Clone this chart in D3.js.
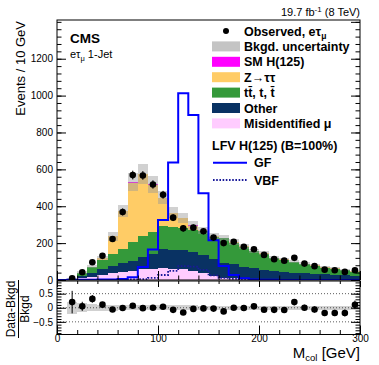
<!DOCTYPE html>
<html>
<head>
<meta charset="utf-8">
<script src="https://cdn.jsdelivr.net/npm/d3@7"></script>
<style>
  body { margin: 0; background: #fff; }
  svg { display: block; font-family: "Liberation Sans", Arial, sans-serif; }
</style>
</head>
<body>
<div id="chart"></div>
<script>
// 10 GeV bins, 0 - 300 GeV
const binLow = d3.range(0, 300, 10);
const misid = [0, 3, 12, 18, 27, 36, 45, 50, 58, 59, 64, 60, 60, 50, 38, 20, 13, 9, 6, 5, 4, 3, 3, 3, 2, 2, 2, 2, 2, 2];
const other = [1, 2, 12, 22, 31, 40, 46, 52, 69, 83, 103, 104, 100, 100, 98, 96, 78, 77, 63, 59, 51, 46, 39, 37, 34, 31, 29, 25, 23, 22];
const ttbar = [1, 2, 15, 29, 51, 66, 76, 104, 113, 118, 124, 121, 122, 122, 128, 115, 136, 117, 110, 92, 88, 70, 69, 57, 50, 44, 35, 35, 27, 22];
const ztt = [0, 0.5, 1, 4, 9, 95, 206, 322, 333, 256, 152, 77, 52, 22, 5, 5, 3, 4, 3, 3, 3, 3, 3, 3, 3, 3, 3, 3, 2, 2];
const smh = [0, 0, 0, 0, 0, 0, 0, 2, 2, 2, 3, 3, 3, 2, 1, 1, 0, 0, 0, 0, 0, 0, 0, 0, 0, 0, 0, 0, 0, 0];
const bkgUnc = [0.3, 0.22, 0.16, 0.12, 0.1, 0.1, 0.09, 0.09, 0.09, 0.09, 0.08, 0.08, 0.08, 0.08, 0.07, 0.07, 0.07, 0.07, 0.07, 0.07, 0.07, 0.07, 0.07, 0.07, 0.07, 0.07, 0.07, 0.07, 0.07, 0.07];
const observed = [0, 9, 42, 96, 131, 222, 369, 569, 567, 518, 462, 338, 280, 284, 264, 230, 200, 207, 180, 167, 136, 113, 105, 120, 89, 75, 56, 53, 44, 53];
const lfvGF = [0, 1, 2, 2, 3, 3, 5, 15, 70, 165, 325, 637, 1013, 895, 470, 216, 76, 27, 9, 3, 1, 1, 0, 0, 0, 0, 0, 0, 0, 0];
const lfvVBF = [0, 0, 0, 0, 1, 1, 2, 3, 5, 12, 27, 50, 75, 72, 55, 25, 12, 6, 3, 2, 1, 1, 1, 0, 0, 0, 0, 0, 0, 0];
const yTicks = [0, 200, 400, 600, 800, 1000, 1200];
const ratioTicks = [-0.5, 0, 0.5];
const xTicks = [0, 100, 200, 300];

const keys = ['misid', 'other', 'ttbar', 'ztt', 'smh'];
const colors = { misid: '#ffccff', other: '#093263', ttbar: '#34993a', ztt: '#ffcc66', smh: '#ff00ff' };

const rows = binLow.map((lo, i) => ({
    lo, hi: lo + 10,
    misid: misid[i], other: other[i], ttbar: ttbar[i], ztt: ztt[i], smh: smh[i]
}));
rows.forEach((r, i) => {
    r.total = keys.reduce((s, k) => s + r[k], 0);
    r.unc = bkgUnc[i];
    r.obs = observed[i];
});

const svg = d3.select('#chart').append('svg')
    .attr('width', 379)
    .attr('height', 365);

const x = d3.scaleLinear().domain([0, 300]).range([57, 360]);
const y = d3.scaleLinear().domain([0, 1410]).range([280, 20]);
const yr = d3.scaleLinear().domain([-0.95, 0.95]).range([334.5, 281]);

svg.append('clipPath').attr('id', 'mainclip')
    .append('rect').attr('x', 57).attr('y', 20).attr('width', 303).attr('height', 260);
svg.append('clipPath').attr('id', 'ratioclip')
    .append('rect').attr('x', 57).attr('y', 281).attr('width', 303).attr('height', 53.5);

const main = svg.append('g').attr('clip-path', 'url(#mainclip)');

// stacked backgrounds
const stack = d3.stack().keys(keys)(rows);
stack.forEach(layer => {
    main.append('g')
        .attr('fill', colors[layer.key])
        .attr('shape-rendering', 'crispEdges')
        .selectAll('rect')
        .data(layer)
        .enter()
        .append('rect')
        .attr('x', d => x(d.data.lo))
        .attr('width', d => x(d.data.hi) - x(d.data.lo))
        .attr('y', d => y(d[1]))
        .attr('height', d => y(d[0]) - y(d[1]));
});

// background uncertainty
main.append('g')
    .attr('fill', '#9a9a9a')
    .attr('fill-opacity', 0.45)
    .attr('shape-rendering', 'crispEdges')
    .selectAll('rect')
    .data(rows.filter(r => r.total > 0))
    .enter()
    .append('rect')
    .attr('x', d => x(d.lo))
    .attr('width', d => x(d.hi) - x(d.lo))
    .attr('y', d => y(d.total * (1 + d.unc)))
    .attr('height', d => y(d.total * (1 - d.unc)) - y(d.total * (1 + d.unc)));

// LFV signal histograms
const stepLine = d3.line()
    .x(d => x(d[0]))
    .y(d => y(d[1]))
    .curve(d3.curveStepAfter);
const steps = vals => binLow.map((lo, i) => [lo, vals[i]]).concat([[300, vals[vals.length - 1]]]);

main.append('path')
    .attr('d', stepLine(steps(lfvVBF)))
    .attr('fill', 'none')
    .attr('stroke', '#1a1a9a')
    .attr('stroke-width', 1.8)
    .attr('stroke-dasharray', '1.6,1.6');

main.append('path')
    .attr('d', stepLine(steps(lfvGF)))
    .attr('fill', 'none')
    .attr('stroke', '#0000ff')
    .attr('stroke-width', 2);

// observed data
const obsRows = rows.filter(r => r.obs > 0);
main.append('g')
    .selectAll('line')
    .data(obsRows)
    .enter()
    .append('line')
    .attr('x1', d => x(d.lo + 5))
    .attr('x2', d => x(d.lo + 5))
    .attr('y1', d => y(d.obs + Math.sqrt(d.obs)))
    .attr('y2', d => y(d.obs - Math.sqrt(d.obs)))
    .attr('stroke', '#000')
    .attr('stroke-width', 1);
main.append('g')
    .selectAll('circle')
    .data(obsRows)
    .enter()
    .append('circle')
    .attr('cx', d => x(d.lo + 5))
    .attr('cy', d => y(d.obs))
    .attr('r', 3.3)
    .attr('fill', '#000');

// ratio panel
const ratio = svg.append('g').attr('clip-path', 'url(#ratioclip)');
const ratioRows = rows.filter(r => r.total > 0 && r.lo >= 10);

ratio.append('g')
    .attr('fill', '#9a9a9a')
    .attr('fill-opacity', 0.45)
    .attr('shape-rendering', 'crispEdges')
    .selectAll('rect')
    .data(ratioRows)
    .enter()
    .append('rect')
    .attr('x', d => x(d.lo))
    .attr('width', d => x(d.hi) - x(d.lo))
    .attr('y', d => yr(d.unc))
    .attr('height', d => yr(-d.unc) - yr(d.unc));

ratio.append('g')
    .selectAll('line')
    .data(ratioTicks)
    .enter()
    .append('line')
    .attr('x1', 57)
    .attr('x2', 360)
    .attr('y1', d => yr(d))
    .attr('y2', d => yr(d))
    .attr('stroke', '#333')
    .attr('stroke-width', 0.8)
    .attr('stroke-dasharray', '1,2');

const ratioObs = ratioRows.filter(r => r.obs > 0);
ratio.append('g')
    .selectAll('line')
    .data(ratioObs)
    .enter()
    .append('line')
    .attr('x1', d => x(d.lo + 5))
    .attr('x2', d => x(d.lo + 5))
    .attr('y1', d => yr((d.obs + Math.sqrt(d.obs)) / d.total - 1))
    .attr('y2', d => yr((d.obs - Math.sqrt(d.obs)) / d.total - 1))
    .attr('stroke', '#000')
    .attr('stroke-width', 1);
ratio.append('g')
    .selectAll('circle')
    .data(ratioObs)
    .enter()
    .append('circle')
    .attr('cx', d => x(d.lo + 5))
    .attr('cy', d => yr(d.obs / d.total - 1))
    .attr('r', 3.3)
    .attr('fill', '#000');

// axes with inward ticks
function styleAxis(g) {
    g.select('.domain').remove();
    g.selectAll('line').attr('stroke', '#000');
    g.selectAll('text').attr('fill', '#000').style('font-size', '10px')
        .style('font-family', '"Liberation Sans", Arial, sans-serif');
}
const ax = (axis, tx, ty) => svg.append('g').attr('transform', `translate(${tx},${ty})`).call(axis).call(styleAxis);

ax(d3.axisLeft(y).tickValues(yTicks).tickSize(-9).tickPadding(4).tickFormat(d3.format('d')), 57, 0);
ax(d3.axisLeft(y).tickValues(d3.range(0, 1410, 40)).tickSize(-4.5).tickFormat(''), 57, 0);
ax(d3.axisRight(y).tickValues(d3.range(0, 1410, 200)).tickSize(-9).tickFormat(''), 360, 0);
ax(d3.axisRight(y).tickValues(d3.range(0, 1410, 40)).tickSize(-4.5).tickFormat(''), 360, 0);
ax(d3.axisBottom(x).tickValues(xTicks).tickSize(-9).tickFormat(''), 0, 280);
ax(d3.axisBottom(x).tickValues(d3.range(0, 301, 20)).tickSize(-4.5).tickFormat(''), 0, 280);

ax(d3.axisLeft(yr).tickValues(ratioTicks).tickSize(-9).tickPadding(4)
    .tickFormat(d => d === 0 ? '0' : d3.format('.1f')(d).replace('-', '\u2212')), 57, 0);
ax(d3.axisLeft(yr).tickValues(d3.range(-9, 10).map(v => v / 10)).tickSize(-4.5).tickFormat(''), 57, 0);
ax(d3.axisRight(yr).tickValues(ratioTicks).tickSize(-9).tickFormat(''), 360, 0);
ax(d3.axisRight(yr).tickValues(d3.range(-9, 10).map(v => v / 10)).tickSize(-4.5).tickFormat(''), 360, 0);
ax(d3.axisBottom(x).tickValues(xTicks).tickSize(-9).tickPadding(0.5).tickFormat(d3.format('d')), 0, 334.5);
ax(d3.axisBottom(x).tickValues(d3.range(0, 301, 20)).tickSize(-4.5).tickFormat(''), 0, 334.5);
ax(d3.axisTop(x).tickValues(xTicks).tickSize(-6).tickFormat(''), 0, 281);
ax(d3.axisTop(x).tickValues(d3.range(0, 301, 20)).tickSize(-3).tickFormat(''), 0, 281);

// frames
svg.append('rect').attr('x', 57).attr('y', 20).attr('width', 303).attr('height', 260)
    .attr('fill', 'none').attr('stroke', '#000').attr('stroke-width', 1);
svg.append('rect').attr('x', 57).attr('y', 281).attr('width', 303).attr('height', 53.5)
    .attr('fill', 'none').attr('stroke', '#000').attr('stroke-width', 1);

// titles
svg.append('text')
    .attr('transform', 'translate(25,21) rotate(-90)')
    .attr('text-anchor', 'end')
    .style('font-size', '13px')
    .text('Events / 10 GeV');

const xt = svg.append('text')
    .attr('x', 360).attr('y', 358)
    .attr('text-anchor', 'end')
    .style('font-size', '15px');
xt.append('tspan').text('M');
xt.append('tspan').attr('dy', 3).style('font-size', '9.5px').text('col');
xt.append('tspan').attr('dy', -3).text(' [GeV]');

const rl = svg.append('g').attr('transform', 'translate(0,309) rotate(-90)');
rl.append('text').attr('x', 0).attr('y', 15).attr('text-anchor', 'middle')
    .style('font-size', '12px').text('Data-Bkgd');
rl.append('line').attr('x1', -29).attr('x2', 29).attr('y1', 18.5).attr('y2', 18.5)
    .attr('stroke', '#000').attr('stroke-width', 1);
rl.append('text').attr('x', 0).attr('y', 29).attr('text-anchor', 'middle')
    .style('font-size', '12px').text('Bkgd');

const lumi = svg.append('text')
    .attr('x', 360).attr('y', 16)
    .attr('text-anchor', 'end')
    .style('font-size', '11px');
lumi.append('tspan').text('19.7 fb');
lumi.append('tspan').attr('dy', -4).style('font-size', '8px').text('-1');
lumi.append('tspan').attr('dy', 4).text(' (8 TeV)');

svg.append('text').attr('x', 70).attr('y', 43)
    .style('font-size', '13.5px').style('font-weight', 'bold').text('CMS');
const cat = svg.append('text').attr('x', 70).attr('y', 58).style('font-size', '11px');
cat.append('tspan').text('e\u03c4');
cat.append('tspan').attr('dy', 2.5).style('font-size', '7.5px').text('\u03bc');
cat.append('tspan').attr('dy', -2.5).text(' 1-Jet');

// legend
const legendLabels = ['Bkgd. uncertainty', 'SM H(125)', 'Z\u2192\u03c4\u03c4', 'tt\u0304, t,  t\u0304', 'Other', 'Misidentified \u03bc'];
const legendFills = ['#c4c4c4', colors.smh, colors.ztt, colors.ttbar, colors.other, colors.misid];
const leg = svg.append('g').style('font-size', '12.5px').style('font-weight', 'bold');
const rowY = i => 31 + i * 15.4;

leg.append('circle').attr('cx', 226).attr('cy', rowY(0)).attr('r', 3).attr('fill', '#000');
const obsText = leg.append('text').attr('x', 244).attr('y', rowY(0) + 4.5);
obsText.append('tspan').text('Observed, e\u03c4');
obsText.append('tspan').attr('dy', 3).style('font-size', '8.5px').text('\u03bc');

legendLabels.forEach((label, i) => {
    leg.append('rect')
        .attr('x', 212).attr('y', rowY(i + 1) - 5)
        .attr('width', 28).attr('height', 10)
        .attr('fill', legendFills[i]);
    leg.append('text')
        .attr('x', 244).attr('y', rowY(i + 1) + 4.5)
        .text(label);
});

leg.append('text').attr('x', 212).attr('y', 149.5).text('LFV H(125) (B=100%)');
leg.append('line').attr('x1', 213).attr('x2', 247).attr('y1', 162.7).attr('y2', 162.7)
    .attr('stroke', '#0000ff').attr('stroke-width', 2);
leg.append('text').attr('x', 254).attr('y', 167).text('GF');
leg.append('line').attr('x1', 213).attr('x2', 247).attr('y1', 180).attr('y2', 180)
    .attr('stroke', '#1a1a9a').attr('stroke-width', 1.8).attr('stroke-dasharray', '1.6,1.6');
leg.append('text').attr('x', 254).attr('y', 184.5).text('VBF');
</script>
</body>
</html>
